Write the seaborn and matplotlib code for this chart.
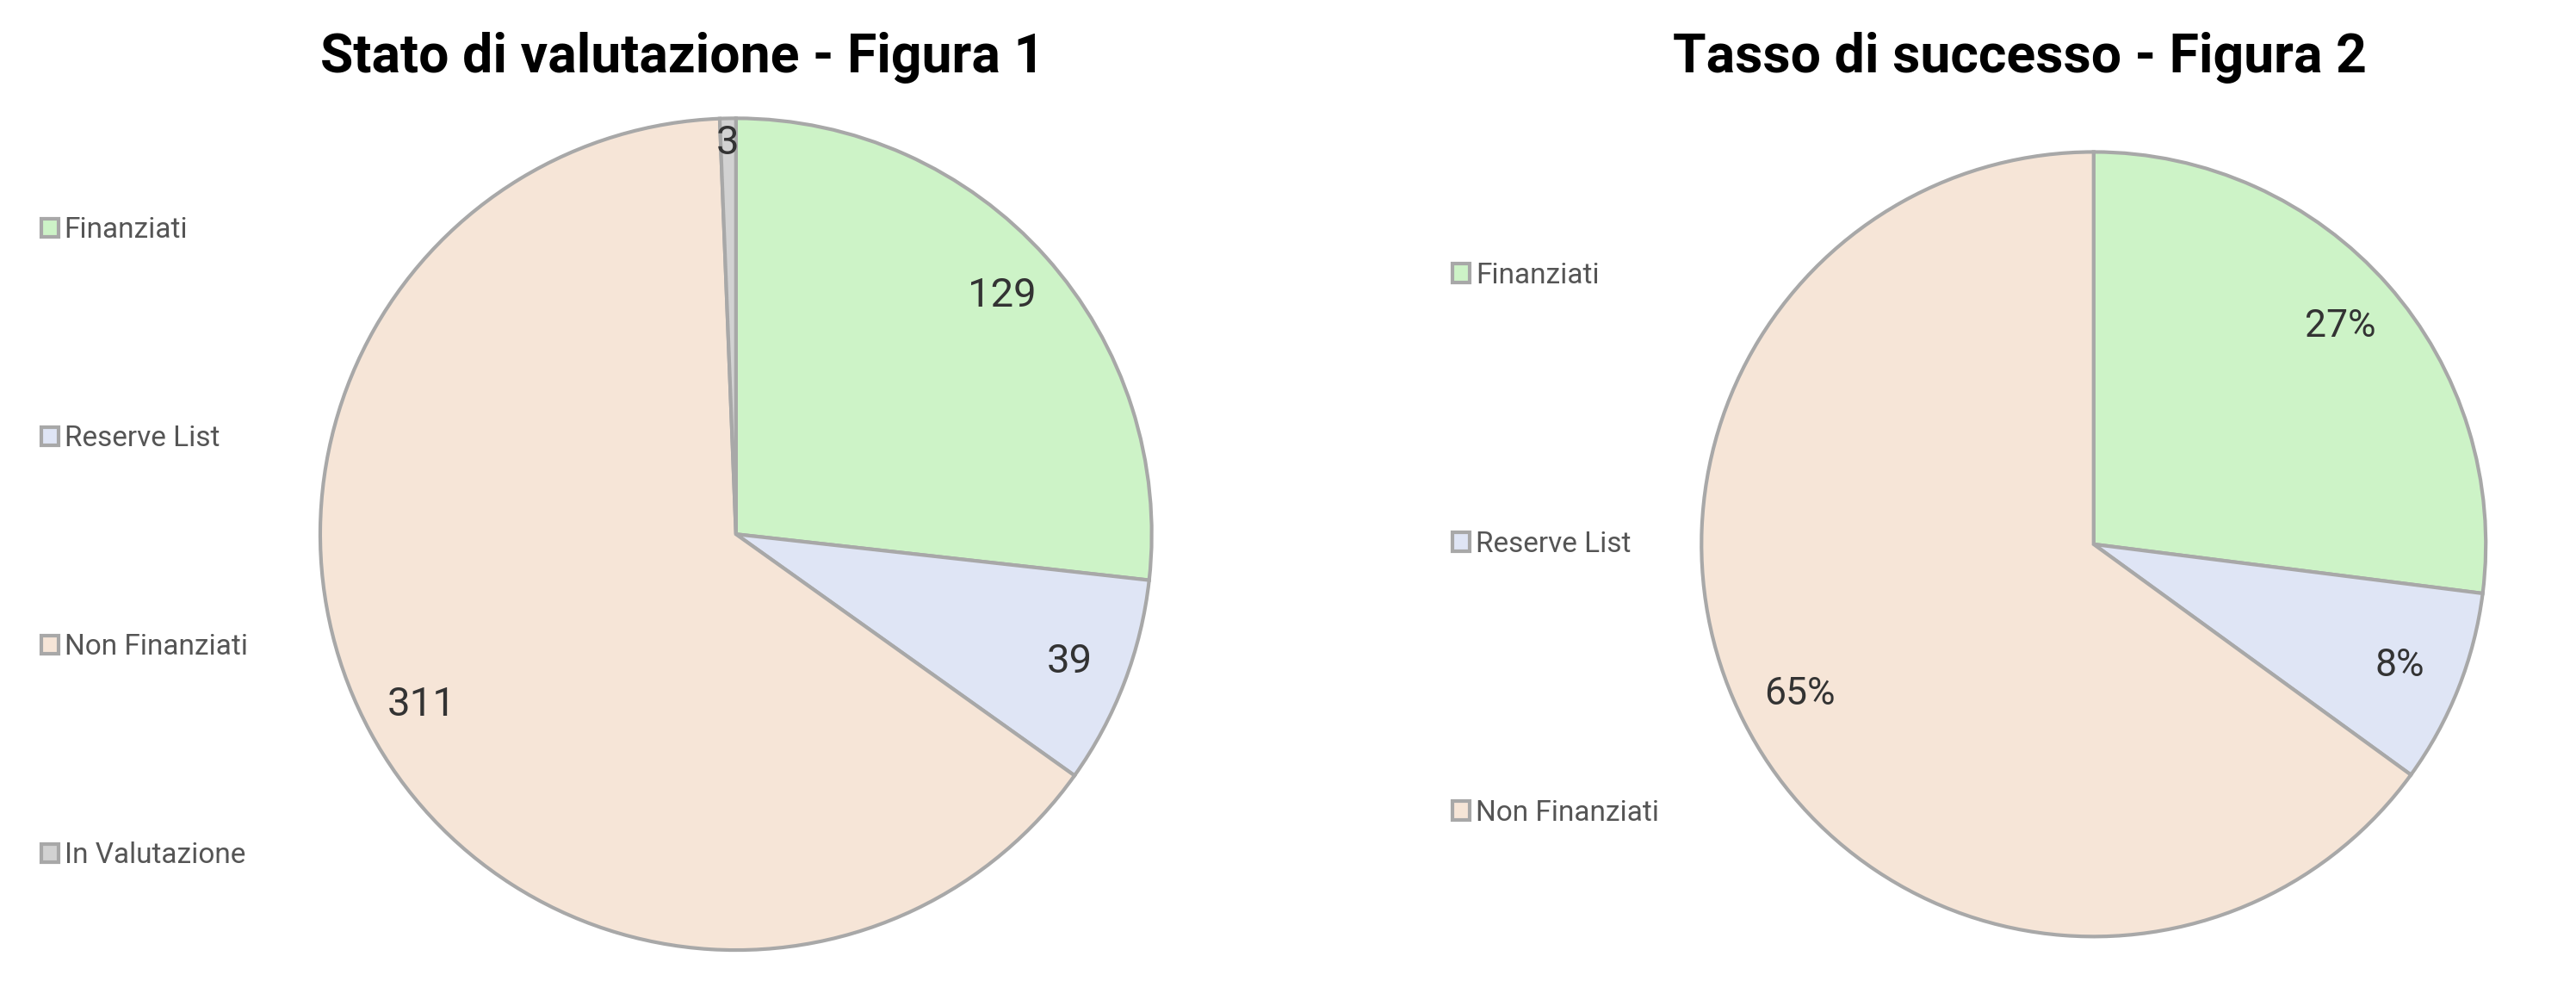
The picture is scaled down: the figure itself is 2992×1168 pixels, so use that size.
import matplotlib
matplotlib.use("Agg")
import matplotlib.pyplot as plt
import seaborn as sns

sns.set_theme(style="white")
plt.rcParams['font.family'] = ['Roboto', 'DejaVu Sans']

cats1 = ["Finanziati", "Reserve List", "Non Finanziati", "In Valutazione"]
vals1 = [129, 39, 311, 3]
cats2 = ["Finanziati", "Reserve List", "Non Finanziati"]
vals2 = [27, 8, 65]
colors = ["#CDF3C7", "#DFE5F5", "#F6E5D7", "#D2D2D2"]
edge = "#A8A8A8"

fig = plt.figure(figsize=(29.92, 11.68), dpi=100)
fig.patch.set_facecolor("white")

ax1 = fig.add_axes([0.1227, 0.051, 0.326, 0.836])
ax2 = fig.add_axes([0.659, 0.065, 0.3075, 0.788])

w1, t1 = ax1.pie(vals1, colors=colors, startangle=90, counterclock=False,
                 labels=[str(v) for v in vals1], labeldistance=0.86,
                 wedgeprops=dict(edgecolor=edge, linewidth=3),
                 textprops=dict(fontsize=34, color="#333333", ha="center", va="center"))
t1[3].set_position((-0.02, 0.94))
w2, t2 = ax2.pie(vals2, colors=colors[:3], startangle=90, counterclock=False,
                 labels=[f"{v}%" for v in vals2], labeldistance=0.84,
                 wedgeprops=dict(edgecolor=edge, linewidth=3),
                 textprops=dict(fontsize=32, color="#333333", ha="center", va="center"))
for ax in (ax1, ax2):
    ax.set_aspect("equal")
    ax.set_xlim(-1.01, 1.01)
    ax.set_ylim(-1.01, 1.01)

fig.text(0.265, 0.943, "Stato di valutazione - Figura 1", ha="center", va="center",
         fontsize=45, fontweight="bold", color="black")
fig.text(0.784, 0.943, "Tasso di successo - Figura 2", ha="center", va="center",
         fontsize=45, fontweight="bold", color="black")

leg_kw = dict(frameon=False, handlelength=0.6, handleheight=0.6, handletextpad=0.2,
              fontsize=24, labelcolor="#555555", borderpad=0, borderaxespad=0)
fig.legend(w1, cats1, loc="upper left", bbox_to_anchor=(0.016, 0.785),
           labelspacing=6.3, **leg_kw)
fig.legend(w2, cats2, loc="upper left", bbox_to_anchor=(0.564, 0.74),
           labelspacing=8.4, **leg_kw)

fig.savefig("out.png", dpi=100, facecolor="white")
